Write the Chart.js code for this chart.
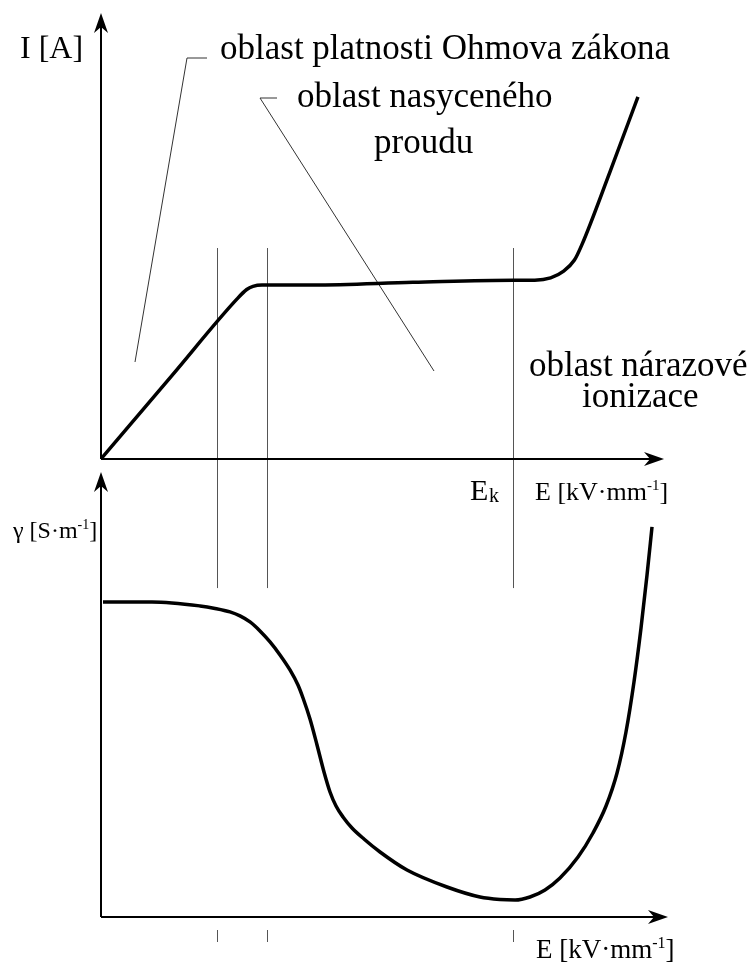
<!DOCTYPE html>
<html>
<head>
<meta charset="utf-8">
<script src="https://cdn.jsdelivr.net/npm/chart.js@4"></script>
<style>
  html, body { margin: 0; padding: 0; background: #fff; }
  #wrap { position: relative; width: 753px; height: 963px; }
</style>
</head>
<body>
<div id="wrap"><canvas id="c" width="753" height="963"></canvas></div>
<script>
// Field strength E (relative units 0–100) and current I of the upper curve
const currentE = [0, 12.5, 24.0, 25.7, 26.8, 28.4, 37.4, 55.0, 72.7, 76.5, 79.3, 81.6, 83.5, 84.8, 89.8, 94.7];
const currentI = [0, 18.7, 35.9, 38.0, 38.7, 39.0, 39.0, 39.6, 40.1, 40.1, 40.6, 42.1, 44.6, 48.0, 64.5, 81.2];

// Field strength E and conductivity γ of the lower curve
const condE = [0.35, 8.99, 17.46, 20.11, 22.75, 24.51, 26.28, 28.04, 29.81, 31.57, 33.33, 34.74, 35.63, 36.86, 38.10, 39.33, 40.39, 41.45, 42.68, 44.27, 46.38, 49.21, 53.97, 61.02, 66.84, 70.37, 73.02, 75.66, 78.31, 80.95, 84.13, 86.77, 89.07, 91.01, 92.59, 94.00, 95.24, 96.30, 97.18];
const condG = [70.79, 70.79, 69.89, 69.33, 68.54, 67.64, 66.29, 64.27, 61.80, 58.88, 55.51, 52.13, 49.21, 44.49, 38.65, 32.58, 28.09, 24.94, 22.47, 20.00, 17.53, 14.61, 10.56, 6.74, 4.49, 3.93, 3.82, 4.49, 6.07, 8.76, 13.48, 18.88, 24.94, 32.36, 41.57, 52.81, 64.94, 76.85, 87.64];

// Region boundaries on the E axis: end of Ohm's law region, start of saturation, E_k
const markerE = [20.5, 29.3, 72.7];

const SERIF = '"Liberation Serif", "Times New Roman", serif';

function toPoints(xs, ys) { return xs.map((x, i) => ({ x: x, y: ys[i] })); }

function arrow(ctx, tx, ty, dir) {
  // filled arrowhead with a notched back; dir: 'up' or 'right'
  const L = 20, W = 7, N = 14;
  ctx.beginPath();
  if (dir === 'up') {
    ctx.moveTo(tx, ty);
    ctx.lineTo(tx + W, ty + L);
    ctx.lineTo(tx, ty + N);
    ctx.lineTo(tx - W, ty + L);
  } else {
    ctx.moveTo(tx, ty);
    ctx.lineTo(tx - L, ty - W);
    ctx.lineTo(tx - N, ty);
    ctx.lineTo(tx - L, ty + W);
  }
  ctx.closePath();
  ctx.fill();
}

function runs(ctx, x, y, parts) {
  let cx = x;
  for (const [txt, size, dy] of parts) {
    ctx.font = size + 'px ' + SERIF;
    ctx.fillText(txt, cx, y + (dy || 0));
    cx += ctx.measureText(txt).width;
  }
}

const diagram = {
  id: 'diagram',
  beforeDatasetsDraw(chart) {
    const ctx = chart.ctx;
    const sx = chart.scales.x, sI = chart.scales.yI, sG = chart.scales.yG;
    const g0 = sG.getPixelForValue(0);
    ctx.save();
    // region boundary guides running through both plots
    ctx.strokeStyle = '#555';
    ctx.lineWidth = 1;
    for (const e of markerE) {
      const px = Math.round(sx.getPixelForValue(e)) + 0.5;
      ctx.beginPath();
      ctx.moveTo(px, sI.getPixelForValue(47.3));
      ctx.lineTo(px, sG.getPixelForValue(73.9));
      ctx.stroke();
      // small ticks under the lower E axis
      ctx.beginPath();
      ctx.moveTo(px, g0 + 13);
      ctx.lineTo(px, g0 + 25);
      ctx.stroke();
    }
    // leader lines of the region captions
    ctx.strokeStyle = '#333';
    ctx.beginPath();
    ctx.moveTo(207, 58); ctx.lineTo(187, 58); ctx.lineTo(135, 362);
    ctx.moveTo(277, 98); ctx.lineTo(260, 98); ctx.lineTo(434, 371);
    ctx.stroke();
    ctx.restore();
  },
  afterDatasetsDraw(chart) {
    const ctx = chart.ctx;
    const sx = chart.scales.x, sI = chart.scales.yI, sG = chart.scales.yG;
    const x0 = sx.getPixelForValue(0);
    const i0 = sI.getPixelForValue(0);
    const g0 = sG.getPixelForValue(0);
    ctx.save();
    ctx.strokeStyle = '#000';
    ctx.fillStyle = '#000';
    ctx.lineWidth = 2;
    // upper plot axes
    const iTop = sI.getPixelForValue(100);
    const iRight = sx.getPixelForValue(99.3);
    ctx.beginPath();
    ctx.moveTo(x0, i0); ctx.lineTo(x0, iTop + 8);
    ctx.moveTo(x0, i0); ctx.lineTo(iRight - 8, i0);
    ctx.stroke();
    arrow(ctx, x0, iTop, 'up');
    arrow(ctx, iRight, i0, 'right');
    // lower plot axes
    const gTop = sG.getPixelForValue(100);
    const gRight = sx.getPixelForValue(100);
    ctx.beginPath();
    ctx.moveTo(x0, g0); ctx.lineTo(x0, gTop + 8);
    ctx.moveTo(x0, g0); ctx.lineTo(gRight - 8, g0);
    ctx.stroke();
    arrow(ctx, x0, gTop, 'up');
    arrow(ctx, gRight, g0, 'right');

    // texts
    ctx.textBaseline = 'alphabetic';
    ctx.textAlign = 'left';
    runs(ctx, 20, 58, [['I [A]', 32]]);
    runs(ctx, 220, 59, [['oblast platnosti Ohmova zákona', 35]]);
    runs(ctx, 297, 107, [['oblast nasyceného', 35]]);
    runs(ctx, 374, 153, [['proudu', 35]]);
    runs(ctx, 529, 376, [['oblast nárazové', 35]]);
    runs(ctx, 582, 407, [['ionizace', 35]]);
    runs(ctx, 470, 500, [['E', 30]]);
    runs(ctx, 489, 502, [['k', 20]]);
    runs(ctx, 535, 500, [['E [kV·mm', 26], ['-1', 15, -10], [']', 26]]);
    runs(ctx, 13, 538, [['γ [S·m', 24], ['-1', 14, -9], [']', 24]]);
    runs(ctx, 536, 958, [['E [kV·mm', 27], ['-1', 16, -10], [']', 27]]);
    ctx.restore();
  }
};

new Chart(document.getElementById('c'), {
  type: 'line',
  data: {
    datasets: [
      {
        label: 'I',
        data: toPoints(currentE, currentI),
        yAxisID: 'yI',
        borderColor: '#000',
        borderWidth: 3.5,
        pointRadius: 0,
        cubicInterpolationMode: 'monotone',
        fill: false
      },
      {
        label: 'γ',
        data: toPoints(condE, condG),
        yAxisID: 'yG',
        borderColor: '#000',
        borderWidth: 3.5,
        pointRadius: 0,
        cubicInterpolationMode: 'monotone',
        fill: false
      }
    ]
  },
  options: {
    responsive: false,
    animation: false,
    layout: { padding: { left: 101, right: 85, top: 13, bottom: 46 } },
    plugins: { legend: { display: false }, tooltip: { enabled: false } },
    scales: {
      x: { type: 'linear', min: 0, max: 100, display: false },
      yI: { type: 'linear', min: -102.7, max: 100, display: false },
      yG: { type: 'linear', min: 0, max: 203.1, display: false }
    }
  },
  plugins: [diagram]
});
</script>
</body>
</html>
